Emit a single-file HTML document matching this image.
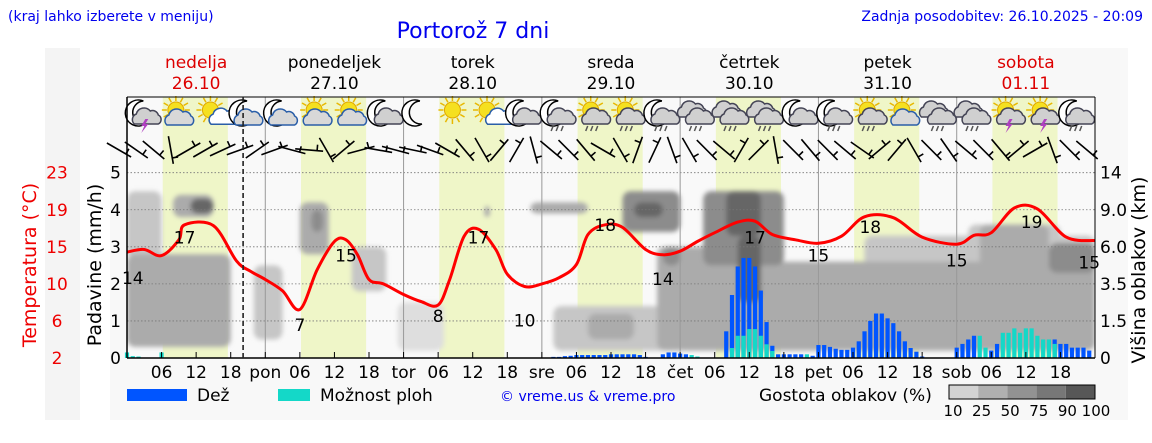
<!DOCTYPE html>
<html><head><meta charset="utf-8">
<style>
html,body{margin:0;padding:0;background:#fff;}
svg{display:block;font-family:"DejaVu Sans","Liberation Sans",sans-serif;}
</style></head>
<body>
<svg id="chart" width="1152" height="443" viewBox="0 0 1152 443">
<defs><filter id="blur" x="-20%" y="-20%" width="140%" height="140%"><feGaussianBlur stdDeviation="2.5"/></filter>
<clipPath id="plotclip"><rect x="127" y="160" width="968" height="198"/></clipPath></defs>
<rect x="110" y="48" width="1018" height="372" fill="#f8f8f8"/>
<rect x="45" y="48" width="35" height="372" fill="#f4f4f4"/>
<text x="8" y="21" font-size="14" fill="#0000ee">(kraj lahko izberete v meniju)</text>
<text x="473" y="38" font-size="22" fill="#0000ee" text-anchor="middle">Portorož 7 dni</text>
<text x="1143" y="21" font-size="14" fill="#0000ee" text-anchor="end">Zadnja posodobitev: 26.10.2025 - 20:09</text>
<g id="bg"></g><g id="clouds" clip-path="url(#plotclip)" filter="url(#blur)"></g><g id="grid"></g><g id="bars"></g><g id="temp"></g><g id="icons"></g><g id="wind"></g><g id="axes"></g>
<text transform="translate(36,265) rotate(-90)" font-size="19" fill="#ee0000" text-anchor="middle">Temperatura (°C)</text>
<text transform="translate(101,265) rotate(-90)" font-size="19" fill="#000" text-anchor="middle">Padavine (mm/h)</text>
<text transform="translate(1145,270) rotate(-90)" font-size="19" fill="#000" text-anchor="middle">Višina oblakov (km)</text>
<g>
<rect x="127" y="389" width="60" height="12" fill="#0055ff"/>
<text x="197" y="401" font-size="17">Dež</text>
<rect x="278" y="389" width="32" height="12" fill="#14d8c8"/>
<text x="320" y="401" font-size="17">Možnost ploh</text>
<text x="500" y="401" font-size="14" fill="#0000ee">© vreme.us &amp; vreme.pro</text>
<text x="759" y="401" font-size="17">Gostota oblakov (%)</text>
<g id="cbar"></g>
</g>
</svg>
<script>
// ---- data ----
const tempHours = [0,3,6,9,10,15,19,21.5,24,27,30,33,36,38,40,42,44.5,48,51,54,56,58.5,61,64,66,69,72,75,78,80,83,86,90,93,96,99,102,106,109,112,116,120,124,128,133,138,144,147,150,154,158,163,168];
const tempValues = [14.0,14.3,13.6,15.4,17.1,17.0,13.0,11.8,10.9,9.6,7.5,12.0,15.2,15.4,13.7,10.9,10.4,9.2,8.4,8.0,10.9,15.8,16.6,14.3,11.5,10.1,10.4,11.1,12.6,16.0,17.1,16.8,14.3,13.7,14.1,15.2,16.2,17.4,17.5,16.0,15.4,15.0,15.8,18.0,17.9,15.7,14.9,15.9,16.2,19.0,18.9,15.7,15.3];
const tempLabelHours = [1,10,30,38,54,61,69,83,93,109,120,129,144,157,167];
const tempLabelValues = [14,17,7,15,8,17,10,18,14,17,15,18,15,19,15];
const tempLabelDy = [26,12,11,12,11,12,33,8,27,12,12,10,17,14,19];
const rainHours = [0,1,2,6,74,75,76,77,78,79,80,81,82,83,84,85,86,87,88,89,90,93,94,95,96,97,98,99,104,105,106,107,108,109,110,111,112,113,114,115,116,117,118,119,120,121,122,123,124,125,126,127,128,129,130,131,132,133,134,135,136,137,138,144,145,146,147,148,149,150,151,152,153,154,155,156,157,158,159,160,161,162,163,164,165,166,167];
const rainValues = [0,0,0,0,0.03,0.03,0.05,0.06,0.08,0.08,0.08,0.08,0.08,0.08,0.1,0.1,0.1,0.1,0.1,0.08,0.03,0.1,0.15,0.15,0.12,0.1,0,0,0.72,1.7,2.47,2.7,2.7,2.47,1.82,0.97,0.33,0.1,0.1,0.1,0.1,0.1,0,0.06,0.35,0.35,0.3,0.25,0.22,0.22,0.28,0.45,0.72,1.0,1.2,1.2,1.07,0.94,0.72,0.45,0.27,0.17,0.04,0.28,0.38,0.5,0.6,0,0,0.2,0.38,0,0,0,0,0,0,0,0,0,0.5,0.38,0.38,0.28,0.28,0.28,0.2];
const showerValues = [0.15,0.05,0.04,0.15,0,0,0,0,0,0,0,0,0,0,0,0,0,0,0,0,0,0,0,0,0,0,0.08,0.04,0,0.27,0.6,0.6,0.78,0.78,0.6,0.37,0.19,0,0,0,0,0,0.1,0,0,0,0,0,0,0,0,0,0,0,0,0,0,0,0,0,0,0,0,0,0,0,0,0.6,0.28,0,0,0.68,0.68,0.8,0.68,0.8,0.8,0.6,0.5,0.5,0.38,0,0,0,0,0,0,0];
// cloud patches: hour start, hour end, low level, high level, density %
const cloudStart = [0,0,8,11,22,30,32,39,47,62,70,74,80,86,88,92,93,96,110,100,104,106,128,146,148,160];
const cloudEnd   = [18,6,15,15,27,35,34,45,55,63,80,96,88,96,93,104,96,168,168,114,110,110,168,162,160,168];
const cloudLow   = [0.3,2.7,3.8,3.9,0.5,2.8,3.4,1.8,0.2,3.8,3.9,0.2,0.5,3.4,3.8,0.2,2.5,0.2,0.8,2.5,3.3,1.5,0.2,0.5,1.0,2.3];
const cloudHigh  = [2.8,4.5,4.4,4.3,2.5,4.2,4.0,3.0,1.5,4.1,4.2,1.4,1.2,4.5,4.2,3.0,3.0,2.6,2.0,4.5,4.5,3.3,3.3,3.6,3.6,3.1];
const cloudDens  = [50,25,50,90,25,50,75,25,10,50,50,25,50,75,90,50,75,50,50,75,90,90,25,25,50,75];
const precipTicks = [0,1,2,3,4,5];
const tempTickLabels = ["2","6","10","15","19","23"];
const heightTickLabels = ["0","1.5","3.5","6.0","9.0","14"];
const dayNames = ["nedelja","ponedeljek","torek","sreda","četrtek","petek","sobota"];
const dayDates = ["26.10","27.10","28.10","29.10","30.10","31.10","01.11"];
const dayShort = ["","pon","tor","sre","čet","pet","sob"];
const iconTypes = ["moon-cloud-storm","sun-cloud","sun-smallcloud","moon-cloud",
 "moon-cloud","sun-cloud","sun-cloud","moon-graycloud",
 "moon","sun","sun-smallcloud","moon-graycloud",
 "moon-cloud-rain","sun-cloud-rain","sun-cloud-rain","moon-cloud-rain",
 "clouds-rain","clouds-rain","clouds-rain","moon-graycloud",
 "moon-cloud-rain","sun-cloud-rain","sun-cloud","clouds-rain",
 "clouds-rain","sun-cloud-storm","sun-cloud-storm","moon-cloud-rain"];
const windAngles = [30,35,40,80,-30,-30,-25,-20,-35,-20,15,5,60,-40,-15,10,15,12,20,30,50,60,-50,-60,75,40,45,50,30,60,-70,-65,70,60,45,40,-60,-45,80,45,50,45,40,35,-40,-50,60,45,55,40,45,50,-40,-30,70,45,40];

// ---- axes ----
const X0=127, X1=1095, Y0=358, YT=172.7;
const HOURS=168;
const xH = h => X0 + h*(X1-X0)/HOURS;
const yP = v => Y0 - v*(Y0-YT)/5;
const yT = t => yP((t-2)*5/21);
const NS="http://www.w3.org/2000/svg";
function mk(tag, attrs, parent, txt){const e=document.createElementNS(NS,tag);for(const k in attrs)e.setAttribute(k,attrs[k]);if(txt!==undefined)e.textContent=txt;parent.appendChild(e);return e;}
const $=id=>document.getElementById(id);

const bg=$("bg");
let r=mk("rect",{x:X0,y:97,width:X1-X0,height:Y0-97,fill:"#f9f9f9"},bg);


for(let d=0;d<7;d++){
  const s=mk("rect",{x:xH(d*24+6.2),y:97,width:xH(17.5)-xH(6.2),height:Y0-97,fill:"#eff6c8"},bg);
  
  
}
// clouds, lighter first
const cg=$("clouds");
const dcol={10:"#dedede",25:"#c6c6c6",50:"#ababab",75:"#8c8c8c",90:"#666666"};
const order=cloudStart.map((_,i)=>i).sort((a,b)=>cloudDens[a]-cloudDens[b]);
order.forEach(i=>{
  const c=mk("rect",{x:xH(cloudStart[i]),y:yP(cloudHigh[i]),width:xH(cloudEnd[i])-xH(cloudStart[i]),height:yP(cloudLow[i])-yP(cloudHigh[i]),rx:8,fill:dcol[cloudDens[i]]},cg);
  
  
});
const g=$("grid");
precipTicks.forEach(v=>{ if(v>0){const l=mk("line",{x1:X0,x2:X1,y1:yP(v),y2:yP(v),stroke:"#777","stroke-width":0.8,"stroke-dasharray":"1.5,2"},g);
  
  }});
for(let d=1;d<7;d++){
  const l=mk("line",{x1:xH(d*24),x2:xH(d*24),y1:97,y2:Y0,stroke:"#999","stroke-width":1},g);
  
  
}
const bg2=$("bars");
rainHours.forEach((h,i)=>{
  if(rainValues[i]>0){const b=mk("rect",{x:xH(h)-2.1,y:yP(rainValues[i]),width:4.2,height:Y0-yP(rainValues[i]),fill:"#0055ff"},bg2);
    
    }
  if(showerValues[i]>0){const b=mk("rect",{x:xH(h)-2.1,y:yP(showerValues[i]),width:4.2,height:Y0-yP(showerValues[i]),fill:"#14d8c8"},bg2);
    
    }
});
// temp line, smoothed (Catmull-Rom)
const tg=$("temp");
const pts=tempHours.map((h,i)=>[xH(h),yT(tempValues[i])]);
let d="M"+pts[0][0].toFixed(1)+","+pts[0][1].toFixed(1);
for(let i=0;i<pts.length-1;i++){
  const p0=pts[Math.max(0,i-1)],p1=pts[i],p2=pts[i+1],p3=pts[Math.min(pts.length-1,i+2)];
  const c1=[p1[0]+(p2[0]-p0[0])/6,p1[1]+(p2[1]-p0[1])/6], c2=[p2[0]-(p3[0]-p1[0])/6,p2[1]-(p3[1]-p1[1])/6];
  d+=`C${c1[0].toFixed(1)},${c1[1].toFixed(1)} ${c2[0].toFixed(1)},${c2[1].toFixed(1)} ${p2[0].toFixed(1)},${p2[1].toFixed(1)}`;
}
const p=mk("path",{d,fill:"none",stroke:"#ff0000","stroke-width":3,"stroke-linejoin":"round"},tg);


tempLabelHours.forEach((h,i)=>{
  const t=mk("text",{x:xH(h),y:yT(tempLabelValues[i])+tempLabelDy[i]+6,"font-size":17,"text-anchor":"middle"},tg,String(tempLabelValues[i]));
  
  
});
const ax=$("axes");
mk("line",{x1:X0,x2:X0,y1:97,y2:Y0,stroke:"#000","stroke-width":1.5},ax);
mk("line",{x1:X0,x2:X1,y1:97,y2:97,stroke:"#000","stroke-width":1},ax);
mk("line",{x1:X1,x2:X1,y1:97,y2:Y0,stroke:"#000","stroke-width":1},ax);
mk("line",{x1:X0,x2:X1,y1:Y0,y2:Y0,stroke:"#000","stroke-width":1.5},ax);
const nl=mk("line",{x1:xH(20.15),x2:xH(20.15),y1:97,y2:Y0,stroke:"#222","stroke-width":1.6,"stroke-dasharray":"5,3"},ax);


precipTicks.forEach((v,i)=>{
  let t=mk("text",{x:121,y:yP(v)+6,"font-size":17,"text-anchor":"end"},ax,String(v));
  
  
  t=mk("text",{x:57,y:yP(v)+6,"font-size":17,"text-anchor":"middle",fill:"#ee0000"},ax,tempTickLabels[i]);
  
  
  t=mk("text",{x:1100,y:yP(v)+6,"font-size":17},ax,heightTickLabels[i]);
  
  
});
for(let h=0;h<HOURS;h+=6){
  const dd=Math.floor(h/24), hh=h%24;
  const lab = hh===0 ? dayShort[dd] : String(hh).padStart(2,"0");
  if(h>0){const tk=mk("line",{x1:xH(h),x2:xH(h),y1:Y0-6,y2:Y0,stroke:"#000","stroke-width":1},ax);
    
    }
  if(lab){const t=mk("text",{x:xH(h),y:378,"font-size":17,"text-anchor":"middle"},ax,lab);
    
    }
}
for(let k=0;k<7;k++){
  const col=(k===0||k===6)?"#dd0000":"#000";
  let t=mk("text",{x:xH(k*24+12),y:68,"font-size":17,"text-anchor":"middle",fill:col},ax,dayNames[k]);
  
  
  t=mk("text",{x:xH(k*24+12),y:89,"font-size":17,"text-anchor":"middle",fill:col},ax,dayDates[k]);
  
  
}
const ig=$("icons");
function sun(g,cx,cy){for(let a=0;a<360;a+=30){const rr=a*Math.PI/180;mk("line",{x1:cx+9*Math.cos(rr),y1:cy+9*Math.sin(rr),x2:cx+14*Math.cos(rr),y2:cy+14*Math.sin(rr),stroke:"#e8b800","stroke-width":1.5},g);}mk("circle",{cx,cy,r:8,fill:"#f5e020",stroke:"#e0a800"},g);}
function moon(g,cx,cy){mk("path",{d:`M${cx+4},${cy-12} A13,13 0 1,0 ${cx+6},${cy+11} A10,10 0 1,1 ${cx+4},${cy-12}Z`,fill:"#fff",stroke:"#000","stroke-width":1.5},g);}
function cloud(g,cx,cy,s,fill,stroke){mk("path",{d:`M${cx-12*s},${cy+6*s} a6,6 0 0,1 2,-10 a8,8 0 0,1 14,-3 a6,6 0 0,1 8,4 a5,5 0 0,1 0,9 z`,fill,stroke,"stroke-width":1.5},g);}
function rain(g,cx,cy){for(let k=0;k<3;k++)mk("line",{x1:cx-6+k*5,y1:cy,x2:cx-8+k*5,y2:cy+5,stroke:"#555","stroke-width":1.5},g);}
function bolt(g,cx,cy){mk("path",{d:`M${cx},${cy} l-4,7 h3 l-3,7 l7,-9 h-3 l3,-5z`,fill:"#b040c0"},g);}
iconTypes.forEach((tp,i)=>{
  const cx=xH(3+6*i), cy=113;
  const gi=mk("g",{},ig);
  
  
  if(tp.startsWith("moon")) moon(gi,cx-5,cy);
  if(tp.startsWith("sun")) sun(gi,cx-3,cy-3);
  if(tp.startsWith("clouds")) cloud(gi,cx-6,cy-2,1,"#d0d0d0","#445");
  if(tp.includes("smallcloud")) cloud(gi,cx+6,cy+7,0.7,"#fff","#2a5ea8");
  else if(tp.includes("graycloud")||tp.includes("clouds")||tp.includes("rain")||tp.includes("storm")) cloud(gi,cx+2,cy+5,1,"#d0d0d0","#445");
  else if(tp.includes("cloud")) cloud(gi,cx,cy+6,1,"#d8d8d8","#2a5ea8");
  if(tp.includes("rain")) rain(gi,cx,cy+13);
  if(tp.includes("storm")) bolt(gi,cx+1,cy+6);
});
const wg=$("wind");
windAngles.forEach((a,i)=>{
  const cx=xH(3*i)-8, cy=150, rr=a*Math.PI/180, L=14;
  const x1=cx-L*Math.cos(rr), y1=cy-L*Math.sin(rr), x2=cx+L*Math.cos(rr), y2=cy+L*Math.sin(rr);
  const w=mk("path",{d:`M${x1.toFixed(1)},${y1.toFixed(1)}L${x2.toFixed(1)},${y2.toFixed(1)}M${(cx+8*Math.cos(rr)).toFixed(1)},${(cy+8*Math.sin(rr)).toFixed(1)}l${(6*Math.sin(rr)).toFixed(1)},${(-6*Math.cos(rr)).toFixed(1)}`,stroke:"#000","stroke-width":1.6,fill:"none"},wg);
  
  
});
const cb=$("cbar");
const cbCols=["#d3d3d3","#b0b0b0","#929292","#777777","#575757"];
const cbLabels=["10","25","50","75","90","100"];
cbCols.forEach((c,i)=>{const s=mk("rect",{x:949+i*29.2,y:385,width:29.2,height:14,fill:c},cb);
  
  });
mk("rect",{x:949,y:385,width:146,height:14,fill:"none",stroke:"#000","stroke-width":1},cb);
cbLabels.forEach((l,i)=>{const t=mk("text",{x:953+i*28.6,y:416,"font-size":15,"text-anchor":"middle"},cb,l);
  
  });
</script>
</body></html>
